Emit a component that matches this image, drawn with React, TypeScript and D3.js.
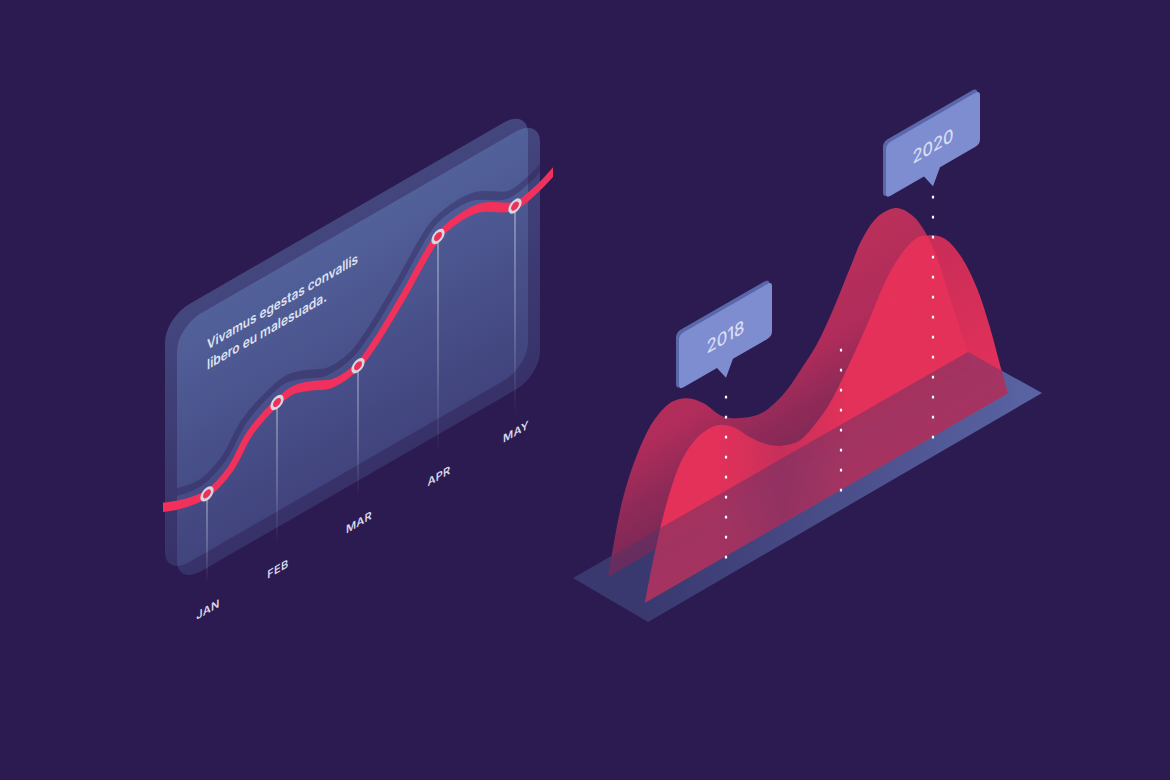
import React from "react";
import * as d3 from "d3";

const W = 1170, H = 780;
const SHEAR = 0.57735;
const bg = "#2c1b50";

// ---------- left panel data
const months = ["JAN", "FEB", "MAR", "APR", "MAY"];
const monthPos = [207, 277, 358, 438, 515];
const monthValue = [89, 140, 130, 213, 199];
const monthDropEnd = [0, 0, 0, -5, -10];
const linePos = [150, 163, 183, 207, 230, 250, 277, 293, 313, 333, 358, 377, 403, 438, 457, 480, 515, 533, 553, 568];
const lineValue = [108, 101, 93, 89, 100, 125, 140, 143, 136, 127, 130, 145, 173, 213, 219, 217.5, 199, 202, 211, 222];
const captionLines = ["Vivamus egestas convallis", "libero eu malesuada."];
const captionWidths = [151, 120];

// ---------- right chart data
const series2018Pos = [608, 613, 623, 637, 653, 670, 687, 703, 723, 743, 763, 783, 800, 817, 833, 850, 863, 877, 895, 912, 925, 937, 950, 963, 972];
const series2018Val = [0, 26, 70, 105, 129, 138, 133, 119, 94, 81, 75, 81, 95, 112, 137, 169, 192, 204, 203, 186, 162, 129, 81, 34, 0];
const series2020Pos = [645, 655, 667, 683, 700, 717, 733, 750, 767, 782, 800, 820, 830, 850, 870, 887, 903, 917, 928, 943, 960, 977, 990, 1000, 1008];
const series2020Val = [0, 45, 88, 123, 136, 136, 125, 105, 88, 78, 73, 84, 93, 122, 155, 185, 202, 208, 204, 193, 166, 123, 76, 33, 0];
const floorPos = [573, 648, 1042, 968];
const floorScreenY = [578, 622, 393, 352];
const dotPos = [726, 841, 933];
const dotTop = [397, 350, 197];
const dotBottom = [557, 490, 437];
const bubbleLabels = ["2018", "2020"];
const bubblePos = [679, 886];
const bubbleWidth = [93, 94];
const bubbleTop = [727, 656];
const bubbleHeight = [55, 54];
const bubbleTip = [726, 933];

const sx = d3.scaleLinear().domain([0, 1200]).range([0, 1200]);
const sy = d3.scaleLinear().domain([0, 250]).range([0, -250]);
const sheared = (b: number) => `matrix(1,${-SHEAR},0,1,0,${b})`;

const PANEL_BASE = 702.4;
const BACK_BASE = 927.8;
const FRONT_BASE = 975.2;

const curve = d3.line<[number, number]>().x((d) => sx(d[0])).y((d) => sy(d[1])).curve(d3.curveCatmullRom.alpha(0.5));
const zip = (a: number[], b: number[]) => a.map((v, i) => [v, b[i]] as [number, number]);
const linePath = curve(zip(linePos, lineValue))!;
const backPath = curve(zip(series2018Pos, series2018Val))! + "Z";
const frontPath = curve(zip(series2020Pos, series2020Val))! + "Z";
const floorPath = d3.line<[number, number]>()(zip(floorPos, floorScreenY))! + "Z";

function bubblePath(x: number, y: number, w: number, h: number, r: number, tip: number, tipLen: number) {
  const p = d3.path();
  p.moveTo(x + r, y);
  p.lineTo(x + w - r, y);
  p.quadraticCurveTo(x + w, y, x + w, y + r);
  p.lineTo(x + w, y + h - r);
  p.quadraticCurveTo(x + w, y + h, x + w - r, y + h);
  p.lineTo(tip + 7, y + h);
  p.lineTo(tip, y + h + tipLen);
  p.lineTo(tip - 9, y + h);
  p.lineTo(x + r, y + h);
  p.quadraticCurveTo(x, y + h, x, y + h - r);
  p.lineTo(x, y + r);
  p.quadraticCurveTo(x, y, x + r, y);
  p.closePath();
  return p.toString();
}

const font = "Inter, 'Open Sans', sans-serif";

export default function App() {
  return (
    <svg width={W} height={H} viewBox={`0 0 ${W} ${H}`} style={{ position: "fixed", left: 0, top: 0, display: "block" }}>
      <defs>
        <linearGradient id="panelFill" x1="0" y1="0" x2="0" y2="1">
          <stop offset="0" stopColor="#6c90cc" stopOpacity={0.37} />
          <stop offset="1" stopColor="#6080c0" stopOpacity={0.22} />
        </linearGradient>
        <linearGradient id="drop" x1="0" y1="0" x2="0" y2="1">
          <stop offset="0" stopColor="#ffffff" stopOpacity={0.55} />
          <stop offset="0.6" stopColor="#ffffff" stopOpacity={0.3} />
          <stop offset="1" stopColor="#ffffff" stopOpacity={0} />
        </linearGradient>
        <linearGradient id="floorFill" gradientUnits="userSpaceOnUse" x1="640" y1="0" x2="1040" y2="0">
          <stop offset="0" stopColor="#39386f" />
          <stop offset="1" stopColor="#5a64a4" />
        </linearGradient>
        <linearGradient id="backFill" gradientUnits="userSpaceOnUse" x1="0" y1="0" x2="0" y2="-210">
          <stop offset="0" stopColor="#7a2856" />
          <stop offset="0.28" stopColor="#912a58" />
          <stop offset="0.53" stopColor="#b02c5a" />
          <stop offset="1" stopColor="#bb305a" />
        </linearGradient>
        <linearGradient id="frontFill" gradientUnits="userSpaceOnUse" x1="0" y1="0" x2="0" y2="-210">
          <stop offset="0" stopColor="#ec325a" stopOpacity={0.97} />
          <stop offset="0.4" stopColor="#f0325a" stopOpacity={0.88} />
          <stop offset="1" stopColor="#f2325a" stopOpacity={0.78} />
        </linearGradient>
        <linearGradient id="valleyShade" gradientUnits="userSpaceOnUse" x1="715" y1="0" x2="850" y2="0">
          <stop offset="0" stopColor="#6a2a60" stopOpacity={0} />
          <stop offset="0.5" stopColor="#6a2a60" stopOpacity={0.24} />
          <stop offset="1" stopColor="#6a2a60" stopOpacity={0} />
        </linearGradient>
        <clipPath id="panelClip">
          <rect x={177} y={-289} width={363} height={290} />
        </clipPath>
        <clipPath id="lineClip">
          <rect x={163} y={-400} width={390} height={500} />
        </clipPath>
        <clipPath id="areasClip">
          <path d={backPath} transform={sheared(BACK_BASE)} />
          <path d={frontPath} transform={sheared(FRONT_BASE)} />
        </clipPath>
      </defs>

      <rect width={W} height={H} fill={bg} />

      {/* left panel */}
      <rect x={165} y={-289} width={363} height={258} rx={24} ry={24} fill="url(#panelFill)" transform={sheared(PANEL_BASE)} />
      <rect x={177} y={-273} width={363} height={258} rx={24} ry={24} fill="url(#panelFill)" transform={sheared(PANEL_BASE)} />

      <g transform={sheared(PANEL_BASE)}>
        <g clipPath="url(#panelClip)">
          <path d={linePath} transform="translate(-6,-15)" fill="none" stroke="#2c1b50" strokeOpacity={0.36} strokeWidth={7.5} />
        </g>
        {months.map((m, i) => (
          <rect
            key={m + "d"}
            x={sx(monthPos[i]) - 0.6}
            y={sy(monthValue[i])}
            width={1.2}
            height={sy(monthDropEnd[i]) - sy(monthValue[i])}
            fill="url(#drop)"
          />
        ))}
        <g clipPath="url(#lineClip)">
          <path d={linePath} fill="none" stroke="#f2305c" strokeWidth={8.5} />
        </g>
        {months.map((m, i) => (
          <circle key={m} cx={sx(monthPos[i])} cy={sy(monthValue[i])} r={5.3} fill="#ee2f5a" stroke="#d4d6e0" strokeWidth={2.7} />
        ))}
        {months.map((m, i) => (
          <text key={m + "t"} x={sx(monthPos[i]) + 1} y={31} textAnchor="middle" fontFamily={font} fontWeight={600} fontSize={11} letterSpacing={0.3} fill="#d6d6e8">
            {m}
          </text>
        ))}
        {captionLines.map((t, i) => (
          <text key={t} x={207} y={-233 + i * 20} fontFamily={font} fontWeight={600} fontSize={14} textLength={captionWidths[i]} lengthAdjust="spacingAndGlyphs" fill="#dfe2f0">
            {t}
          </text>
        ))}
      </g>

      {/* right chart */}
      <path d={floorPath} fill="url(#floorFill)" />
      <path d={backPath} fill="url(#backFill)" transform={sheared(BACK_BASE)} />
      <path d={frontPath} fill="url(#frontFill)" transform={sheared(FRONT_BASE)} />
      <path d={frontPath} fill="url(#valleyShade)" transform={sheared(FRONT_BASE)} />
      <g clipPath="url(#areasClip)">
        <path d={floorPath} fill="#4a3468" fillOpacity={0.42} />
      </g>

      {dotPos.map((x, i) => (
        <line key={x} x1={sx(x)} x2={sx(x)} y1={dotTop[i] - 1.3} y2={dotBottom[i] + 2} stroke="#ffffff" strokeWidth={2.2} strokeDasharray="2.8 17.2" />
      ))}

      {bubbleLabels.map((t, i) => {
        const x = bubblePos[i], w = bubbleWidth[i], y = bubbleTop[i], h = bubbleHeight[i];
        return (
          <g key={t} transform={sheared(0)}>
            <rect x={sx(x) - 3} y={y - 4.2} width={w + 0.5} height={h + 2} rx={5} fill="#5a68ab" />
            <path d={bubblePath(sx(x), y, w, h, 5, bubbleTip[i], 15)} fill="#7e8cd0" />
            <text x={sx(x) + w / 2} y={y + 35} textAnchor="middle" fontFamily={font} fontWeight={500} fontSize={18} textLength={i ? 41 : 38} lengthAdjust="spacingAndGlyphs" fill="#d9dcf2">
              {t}
            </text>
          </g>
        );
      })}
    </svg>
  );
}
